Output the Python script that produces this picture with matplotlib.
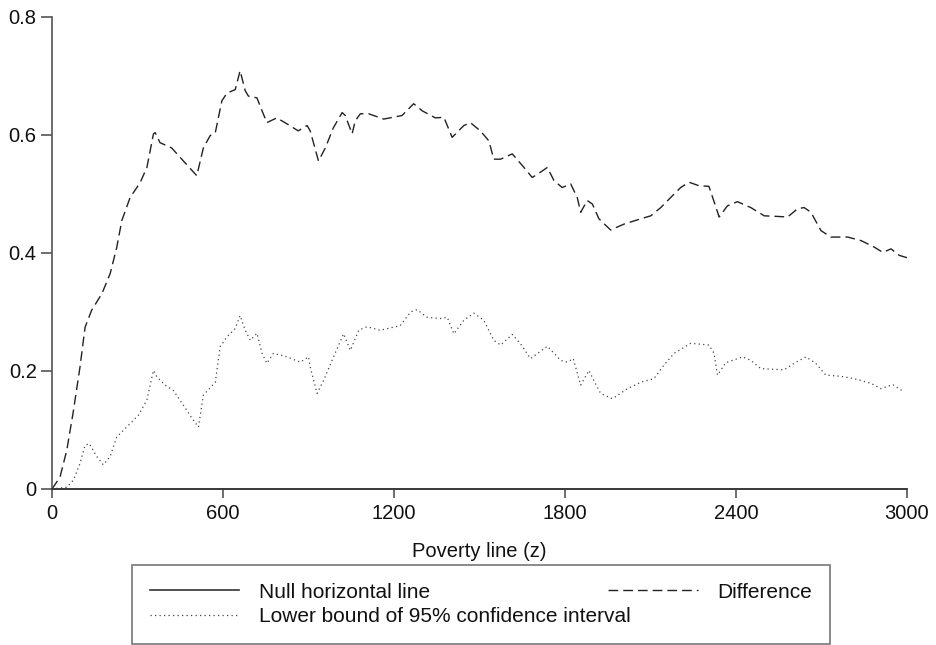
import matplotlib.pyplot as plt
from matplotlib.ticker import FixedLocator, FixedFormatter

plt.rcParams['font.family'] = ['Liberation Sans', 'DejaVu Sans']

# poverty line z and the estimated difference between the two dominance curves
diff_x = [0, 28, 52, 74, 98, 116, 139, 175, 204, 227, 245, 274, 309, 333, 356, 362, 379, 420, 461, 508,
          531, 555, 573, 596, 614, 643, 660, 678, 689, 719, 737, 754, 789, 824, 864, 895, 906, 935, 959, 987,
          1018, 1029, 1053, 1064, 1082, 1111, 1164, 1228, 1269, 1299, 1345, 1375, 1404, 1445, 1468, 1503, 1533, 1550, 1574, 1615,
          1656, 1685, 1714, 1738, 1761, 1790, 1820, 1843, 1855, 1878, 1896, 1919, 1960, 2007, 2066, 2101, 2136, 2183, 2206, 2235,
          2270, 2305, 2341, 2370, 2405, 2452, 2499, 2546, 2581, 2616, 2639, 2663, 2698, 2733, 2792, 2839, 2885, 2915, 2944, 2973,
          3000]
diff_y = [0, 0.020, 0.066, 0.129, 0.206, 0.274, 0.303, 0.331, 0.365, 0.409, 0.455, 0.494, 0.519, 0.545, 0.602, 0.604, 0.587, 0.578, 0.556, 0.531,
          0.578, 0.599, 0.604, 0.658, 0.671, 0.677, 0.709, 0.675, 0.666, 0.663, 0.641, 0.621, 0.629, 0.619, 0.607, 0.616, 0.607, 0.556, 0.578, 0.612,
          0.638, 0.633, 0.602, 0.624, 0.636, 0.636, 0.627, 0.633, 0.653, 0.641, 0.629, 0.630, 0.596, 0.616, 0.621, 0.607, 0.590, 0.559, 0.559, 0.568,
          0.545, 0.528, 0.537, 0.545, 0.523, 0.511, 0.517, 0.494, 0.469, 0.489, 0.483, 0.458, 0.439, 0.449, 0.458, 0.463, 0.477, 0.500, 0.511, 0.520,
          0.514, 0.513, 0.461, 0.480, 0.487, 0.477, 0.463, 0.462, 0.461, 0.475, 0.477, 0.469, 0.438, 0.427, 0.427, 0.421, 0.410, 0.401, 0.407, 0.396,
          0.392]

# lower bound of the 95% confidence interval
lb_x = [0, 52, 75, 98, 116, 131, 157, 180, 204, 227, 262, 303, 333, 356, 368, 397, 426, 461, 491, 514,
        531, 573, 590, 614, 643, 660, 678, 696, 719, 737, 754, 777, 824, 871, 900, 906, 930, 953, 988, 1023,
        1047, 1076, 1105, 1152, 1222, 1258, 1281, 1316, 1363, 1387, 1410, 1445, 1480, 1515, 1550, 1574, 1615, 1644, 1679, 1738,
        1785, 1808, 1829, 1855, 1884, 1901, 1925, 1966, 2019, 2066, 2112, 2147, 2183, 2241, 2305, 2323, 2335, 2364, 2423, 2452,
        2487, 2569, 2604, 2645, 2680, 2715, 2768, 2815, 2874, 2909, 2950, 2985]
lb_y = [0, 0.003, 0.015, 0.043, 0.074, 0.077, 0.055, 0.041, 0.055, 0.088, 0.105, 0.125, 0.151, 0.201, 0.190, 0.176, 0.167, 0.142, 0.120, 0.105,
        0.159, 0.181, 0.241, 0.258, 0.272, 0.294, 0.269, 0.252, 0.264, 0.230, 0.213, 0.230, 0.224, 0.215, 0.224, 0.207, 0.162, 0.184, 0.224, 0.263,
        0.235, 0.269, 0.275, 0.269, 0.277, 0.300, 0.304, 0.291, 0.289, 0.291, 0.263, 0.286, 0.298, 0.286, 0.252, 0.244, 0.262, 0.246, 0.221, 0.242,
        0.218, 0.215, 0.221, 0.176, 0.201, 0.184, 0.162, 0.153, 0.170, 0.181, 0.187, 0.210, 0.230, 0.247, 0.244, 0.230, 0.193, 0.214, 0.224, 0.218,
        0.204, 0.202, 0.213, 0.224, 0.213, 0.193, 0.191, 0.187, 0.179, 0.170, 0.177, 0.166]

null_x = [0, 3000]
null_y = [0, 0]

x_ticks = [0, 600, 1200, 1800, 2400, 3000]
y_ticks = [0, 0.2, 0.4, 0.6, 0.8]
y_tick_labels = ['0', '0.2', '0.4', '0.6', '0.8']

fig = plt.figure(figsize=(9.36, 6.45), dpi=100)
ax = fig.add_axes([52 / 936, 1 - 489 / 645, 855 / 936, 472 / 645])

axis_col = '#555555'
null_line, = ax.plot(null_x, null_y, color='#333333', lw=1.2, clip_on=False, zorder=3)
diff_line, = ax.plot(diff_x, diff_y, color='#222222', lw=1.0, linestyle=(0, (7, 3.6)))
lb_line, = ax.plot(lb_x, lb_y, color='#444444', lw=0.9, linestyle=(0, (1, 2.6)))

ax.set_xlim(0, 3000)
ax.set_ylim(0, 0.8)
ax.xaxis.set_major_locator(FixedLocator(x_ticks))
ax.yaxis.set_major_locator(FixedLocator(y_ticks))
ax.yaxis.set_major_formatter(FixedFormatter(y_tick_labels))

for side in ['top', 'right']:
    ax.spines[side].set_visible(False)
for side in ['left', 'bottom']:
    ax.spines[side].set_color(axis_col)
    ax.spines[side].set_linewidth(1.2)

ax.tick_params(axis='x', direction='out', length=6.5, width=1.2, color=axis_col,
               labelsize=14.5, pad=4, labelcolor='#111111')
ax.tick_params(axis='y', direction='out', length=8, width=1.2, color=axis_col,
               labelsize=14.5, pad=3, labelcolor='#111111')

ax.set_xlabel('Poverty line (z)', fontsize=14.5, labelpad=14, color='#111111')

leg = fig.legend([null_line, lb_line, diff_line],
                 ['Null horizontal line', 'Lower bound of 95% confidence interval', 'Difference'],
                 ncol=2, loc='upper left', mode='expand',
                 bbox_to_anchor=(132 / 936, 1 - 565 / 645, 698 / 936, 0), borderaxespad=0,
                 fontsize=15, handlelength=4.3, handletextpad=0.95, labelspacing=0.25,
                 borderpad=0.85, fancybox=False, frameon=True)
leg.get_frame().set_edgecolor(axis_col)
leg.get_frame().set_linewidth(1.2)
for t in leg.get_texts():
    t.set_color('#111111')

fig.savefig('out.png', dpi=100)
